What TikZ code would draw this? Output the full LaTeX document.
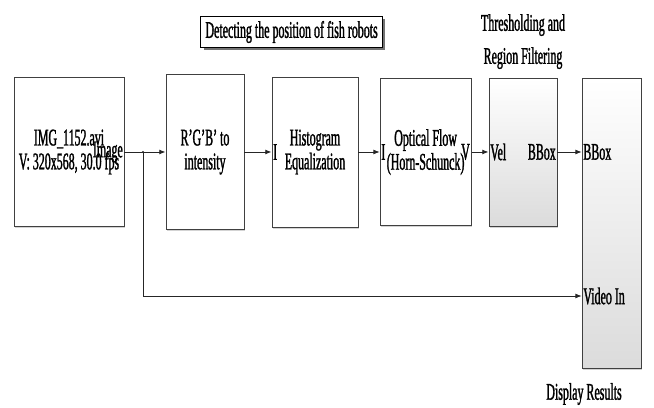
\documentclass[tikz,border=0pt]{standalone}
\usepackage{fontspec}
\setmainfont{Liberation Serif}[FakeStretch=0.5, FakeBold=1.2]
\usepackage{tikz}
\usetikzlibrary{arrows.meta, positioning, calc, shadows}

\begin{document}
\begin{tikzpicture}[
    block/.style={draw=black!75, line width=0.6pt, fill=white, align=center, font=\fontsize{17}{17}\selectfont,
        drop shadow={shadow xshift=0.5pt, shadow yshift=-1.2pt, opacity=0.35}},
    graybox/.style={block, top color=white, bottom color=black!14},
    port/.style={inner sep=1pt, font=\fontsize{17}{17}\selectfont},
    caption/.style={align=center, font=\fontsize{17}{23.5}\selectfont},
    arrow/.style={-{Latex[length=4.5pt, width=3.5pt]}, line width=0.6pt, draw=black!85}
]
    \useasboundingbox (0,0) rectangle (16.35,-10.2);

    \node[draw, line width=0.8pt, fill=white, font=\fontsize{17}{17}\selectfont, minimum width=4.3cm, minimum height=0.7cm,
        drop shadow={shadow xshift=2pt, shadow yshift=-2pt, fill=black!55, opacity=1}] (title) at (7.29, -0.8) {Detecting the position of fish robots};

    \node[block, minimum width=2.75cm, minimum height=3.725cm] (src) at (1.725, -3.8) {IMG\_1152.avi\\V: 320x568, 30.0 fps};
    \node[block, minimum width=1.95cm, minimum height=3.875cm] (rgb) at (5.125, -3.8) {R'G'B' to\\intensity};
    \node[block, minimum width=2.15cm, minimum height=3.75cm] (hist) at (7.875, -3.8) {Histogram\\Equalization};
    \node[block, minimum width=2.275cm, minimum height=3.675cm] (flow) at (10.64, -3.8) {Optical Flow\\(Horn-Schunck)};
    \node[graybox, minimum width=1.7cm, minimum height=3.7cm] (thr) at (13.075, -3.8) {};
    \node[graybox, minimum width=1.475cm, minimum height=7.25cm] (disp) at (15.29, -5.575) {};

    \node[caption] (thrlabel) at (13.075, -1.04) {Thresholding and\\Region Filtering};
    \node[caption] (displabel) at (14.6, -9.85) {Display Results};

    % port labels
    \node[port, anchor=east] (srcimg) at (src.east) {Image};
    \node[port, anchor=west] (histi) at (hist.west) {I};
    \node[port, anchor=west] (flowi) at (flow.west) {I};
    \node[port, anchor=east] (flowv) at (flow.east) {V};
    \node[port, anchor=west] (thrvel) at (thr.west) {Vel};
    \node[port, anchor=east] (thrbbox) at (thr.east) {BBox};
    \node[port, anchor=west] (dbbox) at (disp.west |- thr.east) {BBox};
    \node[port, anchor=west] (dvid) at ([yshift=-1.825cm]disp.west) {Video In};

    \coordinate (split) at (3.575, -3.8);

    \draw[line width=0.6pt, draw=black!85] (src.east) -- (split);
    \draw[arrow] (split) -- (rgb.west);
    \draw[arrow] (rgb.east) -- (hist.west);
    \draw[arrow] (hist.east) -- (flow.west);
    \draw[arrow] (flow.east) -- (thr.west);
    \draw[arrow] (thr.east) -- (dbbox.west);
    \draw[arrow] (split) |- (dvid.west);
    \fill[black!85] (split) circle (0.8pt);
\end{tikzpicture}
\end{document}
